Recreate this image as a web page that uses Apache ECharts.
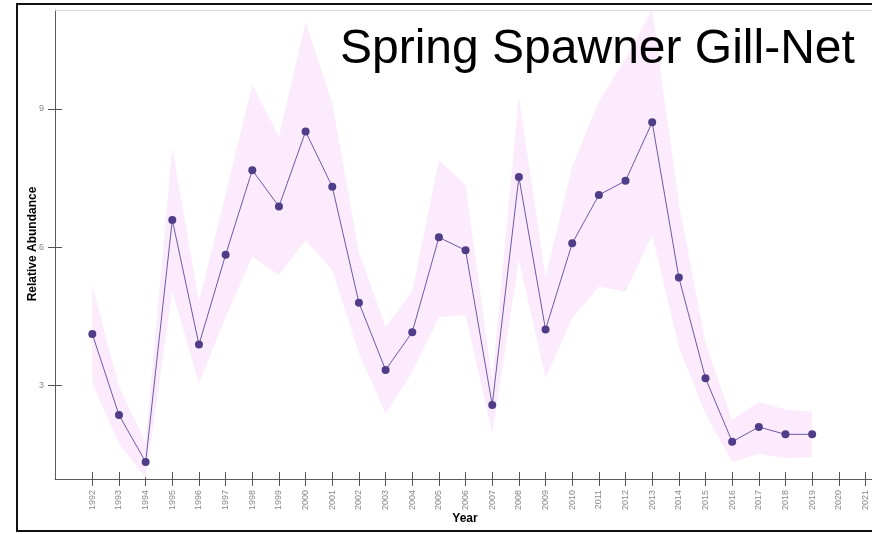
<!DOCTYPE html>
<html>
<head>
<meta charset="utf-8">
<script src="https://cdn.jsdelivr.net/npm/echarts@6/dist/echarts.min.js"></script>
<style>html,body{margin:0;padding:0;background:#fff;}#c{width:872px;height:534px;}</style>
</head>
<body>
<div id="c"></div>
<script>
const years = [1992,1993,1994,1995,1996,1997,1998,1999,2000,2001,2002,2003,2004,2005,2006,2007,2008,2009,2010,2011,2012,2013,2014,2015,2016,2017,2018,2019];
const abundance = [4.11,2.35,1.33,6.59,3.88,5.83,7.67,6.88,8.51,7.31,4.79,3.33,4.15,6.21,5.93,2.57,7.52,4.21,6.08,7.13,7.44,8.71,5.34,3.15,1.77,2.09,1.93,1.93];
const lower = [3.04,1.73,0.98,5.03,3.04,4.48,5.79,5.39,6.15,5.50,3.70,2.38,3.29,4.48,4.52,1.95,5.72,3.15,4.45,5.14,5.03,6.26,3.83,2.38,1.33,1.51,1.41,1.44];
const upper = [5.17,2.96,1.75,8.15,4.81,7.15,9.52,8.40,10.89,9.12,5.88,4.27,5.03,7.89,7.35,3.10,9.27,5.35,7.75,9.16,10.10,11.15,6.95,3.91,2.24,2.64,2.47,2.42];
const xTicks = [1992,1993,1994,1995,1996,1997,1998,1999,2000,2001,2002,2003,2004,2005,2006,2007,2008,2009,2010,2011,2012,2013,2014,2015,2016,2017,2018,2019,2020,2021];
const yTicks = [3,6,9];
const titleText = 'Spring Spawner Gill-Net';
const xName = 'Year';
const yName = 'Relative Abundance';

const chart = echarts.init(document.getElementById('c'), null, {renderer:'canvas'});
const FONT = '"Liberation Sans", Arial, sans-serif';
const xMin = 1990.6, xMax = 2021.245, yMin = 0.96, yMax = 11.15;

const baseX = {
  type:'value', min:xMin, max:xMax, gridIndex:0, position:'bottom',
  splitLine:{show:false}
};
const baseY = {
  type:'value', min:yMin, max:yMax, gridIndex:0, position:'left',
  splitLine:{show:false}
};

const bandData = years.map((y,i)=>[y, lower[i], upper[i]]);

chart.setOption({
  backgroundColor:'#fff',
  animation:false,
  grid:{left:55, right:0, top:10, bottom:55, show:false, outerBoundsMode:'none'},
  xAxis:[
    Object.assign({}, baseX, {
      axisLine:{show:true, onZero:false, lineStyle:{color:'#5a5a5a', width:1}},
      axisTick:{show:true, inside:false, length:7, customValues:xTicks, lineStyle:{color:'#555'}},
      axisLabel:{show:true, customValues:xTicks, rotate:90, margin:11, color:'#888', fontSize:9, fontFamily:FONT,
        showMaxLabel:true, showMinLabel:true, formatter:v=>String(Math.round(v))}
    }),
    Object.assign({}, baseX, {
      axisLine:{show:false, onZero:false},
      axisTick:{show:true, inside:true, length:7, customValues:xTicks, lineStyle:{color:'#555'}},
      axisLabel:{show:false}
    })
  ],
  yAxis:[
    Object.assign({}, baseY, {
      axisLine:{show:true, onZero:false, lineStyle:{color:'#5a5a5a', width:1}},
      axisTick:{show:true, inside:false, length:7, customValues:yTicks, lineStyle:{color:'#555'}},
      axisLabel:{show:true, customValues:yTicks, margin:11, color:'#888', fontSize:9, fontFamily:FONT}
    }),
    Object.assign({}, baseY, {
      axisLine:{show:false, onZero:false},
      axisTick:{show:true, inside:true, length:7, customValues:yTicks, lineStyle:{color:'#555'}},
      axisLabel:{show:false}
    })
  ],
  series:[
    {
      type:'custom', xAxisIndex:0, yAxisIndex:0, silent:true, z:1,
      clip:true,
      data: bandData,
      encode:{x:0, y:[1,2]},
      renderItem:function(params, api){
        if (params.dataIndex !== 0) return;
        const top = bandData.map(d=>api.coord([d[0], d[2]]));
        const bot = bandData.map(d=>api.coord([d[0], d[1]])).reverse();
        const pts = top.concat(bot);
        const cs = params.coordSys;
        return {
          type:'polygon',
          shape:{points:pts},
          style:{fill:'#fcebfc', stroke:null},
          clipPath:{type:'rect', shape:{x:cs.x, y:cs.y, width:cs.width, height:cs.height}}
        };
      }
    },
    {
      type:'line', xAxisIndex:0, yAxisIndex:0,
      data: years.map((y,i)=>[y, abundance[i]]),
      symbol:'circle', symbolSize:8, showAllSymbol:true,
      itemStyle:{color:'#4f3d88'},
      lineStyle:{color:'#6c5aa6', width:1},
      z:3
    }
  ],
  graphic:[
    {type:'line', shape:{x1:55, y1:10.5, x2:872, y2:10.5}, style:{stroke:'#d8d8d8', lineWidth:1}, z:5},
    {type:'rect', shape:{x:17, y:4, width:880, height:527}, style:{fill:null, stroke:'#111', lineWidth:2}, z:10},
    {type:'text', x:340, y:50, style:{text:titleText, font:'48px "Liberation Sans", Arial, sans-serif', fill:'#000', textVerticalAlign:'middle', textAlign:'left'}, z:10},
    {type:'text', x:465, y:519, style:{text:xName, font:'bold 12px "Liberation Sans", Arial, sans-serif', fill:'#000', textAlign:'center', textVerticalAlign:'middle'}, z:10},
    {type:'text', x:33, y:244, rotation:Math.PI/2, style:{text:yName, font:'bold 12px "Liberation Sans", Arial, sans-serif', fill:'#000', textAlign:'center', textVerticalAlign:'middle'}, z:10}
  ]
});
</script>
</body>
</html>
